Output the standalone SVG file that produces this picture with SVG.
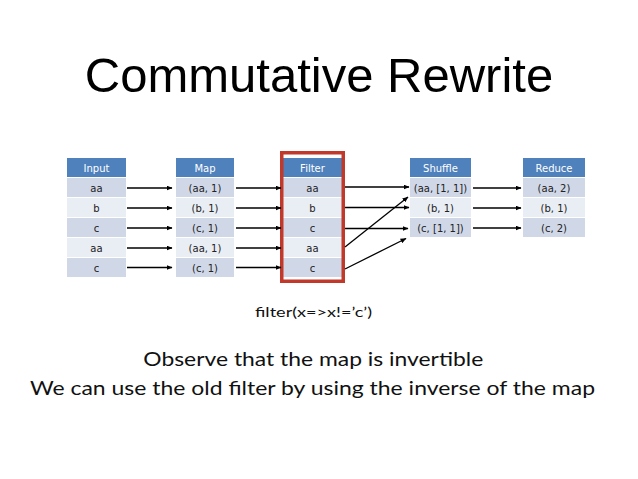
<svg xmlns="http://www.w3.org/2000/svg" width="638" height="479" viewBox="0 0 638 479">
<defs>
<marker id="ah" markerWidth="6" markerHeight="5" refX="5.5" refY="2.5" orient="auto" markerUnits="userSpaceOnUse">
<path d="M0,0 L6,2.5 L0,5 Z" fill="#000"/>
</marker>
<style>
.hd{fill:#4f81bd}
.r1{fill:#d0d8e8}
.r2{fill:#e9edf4}
.ht{font-family:"DejaVu Sans",sans-serif;font-size:10px;fill:#fff;text-anchor:middle}
.ct{font-family:"DejaVu Sans",sans-serif;font-size:10px;fill:#222;text-anchor:middle}
.ar{stroke:#000;stroke-width:1.3;fill:none;marker-end:url(#ah)}
.ttl{font-family:"Liberation Sans",Arial,sans-serif;font-size:49px;fill:#000;text-anchor:middle}
.body{font-family:Lato,"Open Sans",sans-serif;font-weight:400;fill:#111;text-anchor:middle}
</style>
</defs>
<rect width="638" height="479" fill="#fff"/>
<text class="ttl" x="319" y="92">Commutative Rewrite</text>

<g id="input">
<rect class="hd" x="67" y="158" width="59" height="19"/>
<text class="ht" x="96.5" y="171.5">Input</text>
<rect class="r1" x="67" y="178" width="59" height="19"/>
<rect class="r2" x="67" y="198" width="59" height="19"/>
<rect class="r1" x="67" y="218" width="59" height="19"/>
<rect class="r2" x="67" y="238" width="59" height="19"/>
<rect class="r1" x="67" y="258" width="59" height="19"/>
<text class="ct" x="96.5" y="191.5">aa</text>
<text class="ct" x="96.5" y="211.5">b</text>
<text class="ct" x="96.5" y="231.5">c</text>
<text class="ct" x="96.5" y="251.5">aa</text>
<text class="ct" x="96.5" y="271.5">c</text>
</g>

<g id="map">
<rect class="hd" x="176" y="158" width="58" height="19"/>
<text class="ht" x="205" y="171.5">Map</text>
<rect class="r1" x="176" y="178" width="58" height="19"/>
<rect class="r2" x="176" y="198" width="58" height="19"/>
<rect class="r1" x="176" y="218" width="58" height="19"/>
<rect class="r2" x="176" y="238" width="58" height="19"/>
<rect class="r1" x="176" y="258" width="58" height="19"/>
<text class="ct" x="205" y="191.5">(aa, 1)</text>
<text class="ct" x="205" y="211.5">(b, 1)</text>
<text class="ct" x="205" y="231.5">(c, 1)</text>
<text class="ct" x="205" y="251.5">(aa, 1)</text>
<text class="ct" x="205" y="271.5">(c, 1)</text>
</g>

<g id="filter">
<rect class="hd" x="283" y="158" width="59" height="19"/>
<text class="ht" x="312.5" y="171.5">Filter</text>
<rect class="r1" x="283" y="178" width="59" height="19"/>
<rect class="r2" x="283" y="198" width="59" height="19"/>
<rect class="r1" x="283" y="218" width="59" height="19"/>
<rect class="r2" x="283" y="238" width="59" height="19"/>
<rect class="r1" x="283" y="258" width="59" height="19"/>
<text class="ct" x="312.5" y="191.5">aa</text>
<text class="ct" x="312.5" y="211.5">b</text>
<text class="ct" x="312.5" y="231.5">c</text>
<text class="ct" x="312.5" y="251.5">aa</text>
<text class="ct" x="312.5" y="271.5">c</text>
<rect x="281.75" y="152.75" width="61.5" height="128.5" fill="none" stroke="#c0392b" stroke-width="3.5"/>
</g>

<g id="shuffle">
<rect class="hd" x="410" y="158" width="61" height="19"/>
<text class="ht" x="440.5" y="171.5">Shuffle</text>
<rect class="r1" x="410" y="178" width="61" height="19"/>
<rect class="r2" x="410" y="198" width="61" height="19"/>
<rect class="r1" x="410" y="218" width="61" height="19"/>
<text class="ct" x="440.5" y="191.5">(aa, [1, 1])</text>
<text class="ct" x="440.5" y="211.5">(b, 1)</text>
<text class="ct" x="440.5" y="231.5">(c, [1, 1])</text>
</g>

<g id="reduce">
<rect class="hd" x="523" y="158" width="62" height="19"/>
<text class="ht" x="554" y="171.5">Reduce</text>
<rect class="r1" x="523" y="178" width="62" height="19"/>
<rect class="r2" x="523" y="198" width="62" height="19"/>
<rect class="r1" x="523" y="218" width="62" height="19"/>
<text class="ct" x="554" y="191.5">(aa, 2)</text>
<text class="ct" x="554" y="211.5">(b, 1)</text>
<text class="ct" x="554" y="231.5">(c, 2)</text>
</g>

<g id="connectors">
<line class="ar" x1="127" y1="188" x2="172" y2="188"/>
<line class="ar" x1="127" y1="208" x2="172" y2="208"/>
<line class="ar" x1="127" y1="228" x2="172" y2="228"/>
<line class="ar" x1="127" y1="248" x2="172" y2="248"/>
<line class="ar" x1="127" y1="267.5" x2="172" y2="267.5"/>
<line class="ar" x1="236" y1="188" x2="281" y2="188"/>
<line class="ar" x1="236" y1="208" x2="281" y2="208"/>
<line class="ar" x1="236" y1="228" x2="281" y2="228"/>
<line class="ar" x1="236" y1="248" x2="281" y2="248"/>
<line class="ar" x1="236" y1="267.5" x2="281" y2="267.5"/>
<line class="ar" x1="345" y1="187" x2="409" y2="187"/>
<line class="ar" x1="345" y1="207.5" x2="409" y2="207.5"/>
<line class="ar" x1="345" y1="228.5" x2="408" y2="228.5"/>
<line class="ar" x1="345" y1="247" x2="408" y2="197"/>
<line class="ar" x1="345" y1="269" x2="406" y2="238.5"/>
<line class="ar" x1="473" y1="188" x2="521" y2="188"/>
<line class="ar" x1="473" y1="208" x2="521" y2="208"/>
<line class="ar" x1="473" y1="228" x2="521" y2="228"/>
</g>

<text class="body" x="313.5" y="317" font-size="14" textLength="117" lengthAdjust="spacingAndGlyphs">filter(x=&gt;x!=’c’)</text>
<text class="body" x="313.3" y="366" font-size="20" textLength="340" lengthAdjust="spacingAndGlyphs">Observe that the map is invertible</text>
<text class="body" x="312.5" y="395" font-size="20" textLength="565" lengthAdjust="spacingAndGlyphs">We can use the old filter by using the inverse of the map</text>
</svg>
